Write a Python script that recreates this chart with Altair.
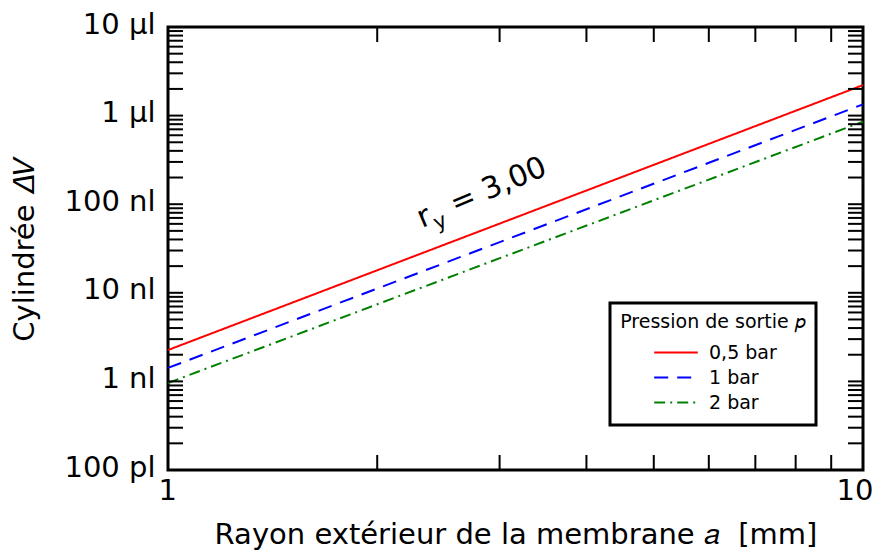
import altair as alt
import pandas as pd

# ---- data ----
radius_mm = [1, 10]
v_05bar = [2.26, 2210]   # nl
v_1bar = [1.42, 1340]
v_2bar = [0.96, 855]
series = ["0,5 bar", "1 bar", "2 bar"]
colors = ["#ff0000", "#0000ff", "#008000"]
dashes = [[1, 0], [14, 9], [11, 5, 2, 5]]

y_major = [0.1, 1, 10, 100, 1000, 10000]
y_labels = ["100 pl", "1 nl", "10 nl", "100 nl", "1 µl", "10 µl"]
x_major = [1, 10]
x_labels = ["1", "10"]
mults = [1, 2, 3, 4, 5, 6, 7, 8, 9]
y_decades = [0.1, 1, 10, 100, 1000]

ann_a = 2.32
ann_v = 54
ann_texts = ["r", "y", "= 3,00"]

W, H = 695, 443
FONT = "DejaVu Sans"
FS = 29
TL = 15  # tick length

rows = []
for s, vals in zip(series, [v_05bar, v_1bar, v_2bar]):
    for a, v in zip(radius_mm, vals):
        rows.append({"a": a, "V": v, "s": s})
lines_df = pd.DataFrame(rows)

y_ticks = [m * d for d in y_decades for m in mults] + [10000]
x_ticks = [m for m in mults] + [10]
yt_df = pd.DataFrame({"V": y_ticks})
xt_df = pd.DataFrame({"a": x_ticks})


def lookup_expr(vals, labels):
    expr = "'" + labels[-1] + "'"
    for v, l in reversed(list(zip(vals[:-1], labels[:-1]))):
        expr = f"datum.value < {v * 3} ? '{l}' : " + expr
    return expr


xscale = alt.Scale(type="log", domain=[1, 10], nice=False)
yscale = alt.Scale(type="log", domain=[0.1, 10000], nice=False)

xaxis = alt.Axis(
    values=x_major, labelExpr=lookup_expr(x_major, x_labels),
    ticks=False, domain=False, grid=False, labelFlush=True, labelFlushOffset=10,
    labelFont=FONT, labelFontSize=FS, labelColor="black", labelPadding=6,
    title="Rayon extérieur de la membrane 𝑎\u00a0\u00a0[mm]",
    titleFont=FONT, titleFontSize=FS, titleFontWeight="normal", titleColor="black",
    titlePadding=15,
)
yaxis = alt.Axis(
    values=y_major, labelExpr=lookup_expr(y_major, y_labels),
    ticks=False, domain=False, grid=False, labelFlush=False, labelOffset=-3,
    labelFont=FONT, labelFontSize=FS, labelColor="black", labelPadding=13,
    title="Cylindrée 𝛥𝑉",
    titleFont=FONT, titleFontSize=FS, titleFontWeight="normal", titleColor="black",
    titlePadding=24,
)


def X():
    return alt.X("a:Q", scale=xscale, axis=xaxis)


def Y():
    return alt.Y("V:Q", scale=yscale, axis=yaxis)


leg = alt.Legend(
    title="Pression de sortie 𝑝",
    orient="none", legendX=442, legendY=276,
    strokeColor="black", padding=10,
    titleFont=FONT, titleFontSize=19, titleFontWeight="normal", titleColor="black",
    titleAnchor="middle", titlePadding=8, titleLimit=400,
    labelFont=FONT, labelFontSize=19, labelColor="black",
    symbolType="stroke", symbolStrokeWidth=2, symbolSize=1900,
    symbolOffset=4, labelOffset=10, rowPadding=0, clipHeight=25,
)

lines = alt.Chart(lines_df).mark_line(strokeWidth=2, clip=True).encode(
    x=X(), y=Y(),
    color=alt.Color("s:N", scale=alt.Scale(domain=series, range=colors), legend=leg),
    strokeDash=alt.StrokeDash("s:N", scale=alt.Scale(domain=series, range=dashes), legend=leg),
)

tick_style = dict(color="black", strokeWidth=2)
left_t = alt.Chart(yt_df).mark_rule(**tick_style).encode(y=Y(), x=alt.value(0), x2=alt.value(TL))
right_t = alt.Chart(yt_df).mark_rule(**tick_style).encode(y=Y(), x=alt.value(W - TL), x2=alt.value(W))
bot_t = alt.Chart(xt_df).mark_rule(**tick_style).encode(x=X(), y=alt.value(H), y2=alt.value(H - TL))
top_t = alt.Chart(xt_df).mark_rule(**tick_style).encode(x=X(), y=alt.value(0), y2=alt.value(TL))

ann_df = pd.DataFrame({"a": [ann_a], "V": [ann_v]})
ang = 337
t_r = alt.Chart(ann_df).mark_text(text=ann_texts[0], font=FONT, fontSize=30, angle=ang,
                                  align="left", baseline="alphabetic", dx=0, dy=0).encode(x=X(), y=Y())
t_y = alt.Chart(ann_df).mark_text(text=ann_texts[1], font=FONT, fontSize=21, angle=ang,
                                  align="left", baseline="alphabetic", dx=13, dy=8).encode(x=X(), y=Y())
t_eq = alt.Chart(ann_df).mark_text(text=ann_texts[2], font=FONT, fontSize=30, angle=ang,
                                   align="left", baseline="alphabetic", dx=36, dy=0).encode(x=X(), y=Y())

chart = alt.layer(lines, left_t, right_t, bot_t, top_t, t_r, t_y, t_eq).properties(
    width=W, height=H,
    autosize=alt.AutoSizeParams(type="none"),
    padding={"left": 160, "top": 19, "right": 12, "bottom": 81},
).configure_view(stroke="black", strokeWidth=3).configure_legend(strokeWidth=3)

chart.save("out.html", embed_options={"renderer": "svg", "actions": False})
